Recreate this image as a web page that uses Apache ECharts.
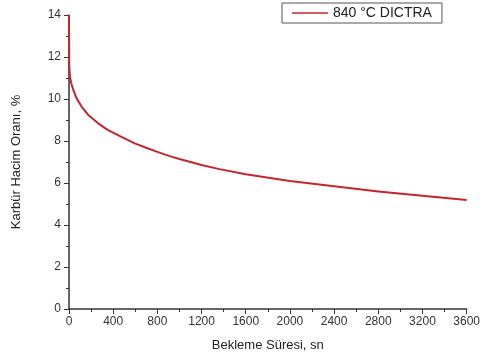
<!DOCTYPE html>
<html>
<head>
<meta charset="utf-8">
<script src="https://cdn.jsdelivr.net/npm/echarts@6/dist/echarts.min.js"></script>
<style>
  html, body { margin: 0; padding: 0; background: #fff; }
  #main { width: 483px; height: 362px; }
</style>
</head>
<body>
<div id="main"></div>
<script>
// holding time (s) and carbide volume fraction (%)
const times  = [0, 2, 9, 20, 39, 69, 115, 174, 264, 354, 475, 595, 686, 800, 911, 1000, 1200, 1362, 1600, 2000, 2400, 2800, 3200, 3600];
const values = [14, 11.6, 11.05, 10.75, 10.43, 10.03, 9.63, 9.24, 8.84, 8.52, 8.2, 7.89, 7.7, 7.48, 7.28, 7.14, 6.86, 6.66, 6.42, 6.1, 5.84, 5.6, 5.39, 5.19];
const seriesName = '840 °C DICTRA';

let myChart = echarts.init(document.getElementById('main'));

const font = 'Liberation Sans, Arial, sans-serif';
const axisColor = '#333';

let option = {
    animation: false,
    grid: { left: 69, right: 15, top: 15, bottom: 53 },
    legend: {
        left: 282,
        top: 3,
        padding: [3, 10, 3, 10],
        borderColor: '#555',
        borderWidth: 1,
        icon: 'rect',
        itemWidth: 36,
        itemHeight: 1.5,
        itemGap: 4,
        textStyle: { fontFamily: font, fontSize: 14, color: '#222' },
        data: [seriesName]
    },
    xAxis: {
        type: 'value',
        min: 0,
        max: 3600,
        interval: 400,
        name: 'Bekleme Süresi, sn',
        nameLocation: 'middle',
        nameGap: 30,
        nameTextStyle: { fontFamily: font, fontSize: 13, color: '#222' },
        axisLine: { show: true, onZero: false, lineStyle: { color: axisColor, width: 1.5 } },
        axisTick: { show: true, inside: false, length: 5, lineStyle: { color: axisColor } },
        minorTick: { show: true, splitNumber: 2, length: 3, lineStyle: { color: axisColor } },
        axisLabel: { fontFamily: font, fontSize: 12, color: '#333', margin: 7, formatter: v => String(v) },
        splitLine: { show: false }
    },
    yAxis: {
        type: 'value',
        min: 0,
        max: 14,
        interval: 2,
        name: 'Karbür Hacim Oranı, %',
        nameLocation: 'middle',
        nameGap: 46,
        nameTextStyle: { fontFamily: font, fontSize: 13, color: '#222' },
        axisLine: { show: true, lineStyle: { color: axisColor, width: 1.5 } },
        axisTick: { show: true, inside: false, length: 5, lineStyle: { color: axisColor } },
        minorTick: { show: true, splitNumber: 2, length: 3, lineStyle: { color: axisColor } },
        axisLabel: { fontFamily: font, fontSize: 12, color: '#333', margin: 8 },
        splitLine: { show: false }
    },
    series: [{
        name: seriesName,
        type: 'line',
        smooth: false,
        showSymbol: false,
        symbol: 'none',
        color: '#c4262e',
        lineStyle: { color: '#c4262e', width: 2, join: 'round' },
        data: times.map((t, i) => [t, values[i]])
    }]
};
myChart.setOption(option);
</script>
</body>
</html>
